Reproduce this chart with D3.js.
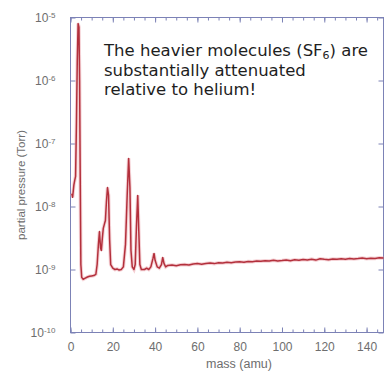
<!DOCTYPE html>
<html>
<head>
<meta charset="utf-8">
<script src="https://cdn.jsdelivr.net/npm/d3@7"></script>
<style>
  body { margin: 0; background: #fff; }
  svg { display: block; }
</style>
</head>
<body>
<div id="chart"></div>
<script>
// mass spectrum values
var mass = [0.6, 1.0, 1.6, 2.0, 2.4, 2.8, 3.2, 3.6, 4.0, 4.3, 4.6, 4.9, 5.3, 6, 7, 8, 9, 10, 11, 12,
    12.6, 13.2, 13.7, 14.2, 14.6, 15, 15.5, 16, 16.5, 17, 17.5, 18, 18.5, 19, 20, 21, 22, 23, 24, 25,
    26, 26.8, 27.5, 28.1, 28.6, 29.2, 30, 30.6, 31.2, 31.8, 32.3, 32.8, 33.5, 35, 36, 37, 38, 39, 39.5, 40,
    41, 42, 43, 43.6, 44.2, 45, 46, 48, 50, 52, 54, 56, 58, 60, 62, 64, 66, 68, 70, 72, 74, 76, 78, 80,
    82, 84, 86, 88, 90, 92, 94, 96, 98, 100, 102, 104, 106, 108, 110, 112, 114, 116, 118, 120,
    122, 124, 126, 128, 130, 132, 134, 136, 138, 140, 142, 144, 146, 148];
var pressure = [1.6e-8, 1.4e-8, 2.2e-8, 2.6e-8, 3.0e-8, 2e-7, 2e-6, 8e-6, 7e-6, 1e-6, 3e-8, 1.2e-9, 7.5e-10, 7.0e-10, 7.3e-10, 7.6e-10, 7.8e-10, 7.9e-10, 8.0e-10, 8.4e-10,
    1.2e-9, 2.5e-9, 4e-9, 2.2e-9, 2e-9, 3e-9, 4.5e-9, 5.2e-9, 6e-9, 1.2e-8, 2e-8, 1.5e-8, 3e-9, 1.2e-9, 1.05e-9, 1.0e-9, 1.02e-9, 9.8e-10, 1.0e-9, 1.1e-9,
    2.5e-9, 1.5e-8, 5.8e-8, 2e-8, 2e-9, 1.1e-9, 1.0e-9, 1.2e-9, 5e-9, 1.5e-8, 4e-9, 1.2e-9, 1.0e-9, 1.0e-9, 1.05e-9, 1.0e-9, 1.1e-9, 1.5e-9, 1.8e-9, 1.4e-9,
    1.1e-9, 1.05e-9, 1.2e-9, 1.55e-9, 1.25e-9, 1.1e-9, 1.16e-9, 1.18e-9, 1.15e-9, 1.19e-9, 1.2e-9, 1.18e-9, 1.22e-9, 1.24e-9, 1.21e-9, 1.25e-9, 1.27e-9, 1.24e-9, 1.28e-9, 1.27e-9, 1.3e-9, 1.28e-9, 1.31e-9, 1.33e-9,
    1.3e-9, 1.34e-9, 1.33e-9, 1.36e-9, 1.35e-9, 1.38e-9, 1.36e-9, 1.4e-9, 1.37e-9, 1.39e-9, 1.42e-9, 1.38e-9, 1.43e-9, 1.4e-9, 1.44e-9, 1.42e-9, 1.46e-9, 1.41e-9, 1.48e-9, 1.45e-9,
    1.43e-9, 1.47e-9, 1.45e-9, 1.48e-9, 1.46e-9, 1.5e-9, 1.47e-9, 1.49e-9, 1.52e-9, 1.48e-9, 1.51e-9, 1.5e-9, 1.53e-9, 1.52e-9];

var xTicks = [0, 20, 40, 60, 80, 100, 120, 140];
var xMinorTicks = d3.range(0, 150, 5);
var yTicks = [1e-10, 1e-9, 1e-8, 1e-7, 1e-6, 1e-5];
var yExponents = ['-10', '-9', '-8', '-7', '-6', '-5'];
var noteLines = ['The heavier molecules (SF', 'substantially attenuated', 'relative to helium!'];

// svg size and plot box
var width = 387;
var height = 375;
var box = { left: 70.5, right: 383.5, top: 17.5, bottom: 332.5 };

var axisColor = '#7c82b6';
var labelColor = '#6e6e6e';

var svg = d3.select('#chart')
    .append('svg')
    .attr('width', width)
    .attr('height', height);

var x = d3.scaleLinear().domain([0, 148]).range([box.left, box.right]);
var y = d3.scaleLog().domain([1e-10, 1e-5]).range([box.bottom, box.top]);

// frame
svg.append('rect')
    .attr('x', box.left)
    .attr('y', box.top)
    .attr('width', box.right - box.left)
    .attr('height', box.bottom - box.top)
    .style('fill', 'none')
    .style('stroke', axisColor)
    .style('stroke-width', 1);

function styleAxis(sel) {
    sel.select('.domain').remove();
    sel.selectAll('line').style('stroke', axisColor);
    sel.selectAll('text')
        .style('fill', labelColor)
        .style('font-family', 'Liberation Sans, Arial, sans-serif');
}

// bottom axis
svg.append('g')
    .attr('transform', 'translate(0,' + box.bottom + ')')
    .call(d3.axisBottom(x).tickValues(xMinorTicks).tickSize(-3).tickFormat(''))
    .call(styleAxis);
svg.append('g')
    .attr('transform', 'translate(0,' + box.bottom + ')')
    .call(d3.axisBottom(x).tickValues(xTicks).tickSize(-5).tickPadding(10).tickFormat(d3.format('d')))
    .call(styleAxis)
    .selectAll('text')
    .style('font-size', '12px');

// top axis
svg.append('g')
    .attr('transform', 'translate(0,' + box.top + ')')
    .call(d3.axisTop(x).tickValues(xMinorTicks).tickSize(-3).tickFormat(''))
    .call(styleAxis);
svg.append('g')
    .attr('transform', 'translate(0,' + box.top + ')')
    .call(d3.axisTop(x).tickValues(xTicks).tickSize(-5).tickFormat(''))
    .call(styleAxis);

// left axis with 10^n labels
var leftAxis = svg.append('g')
    .attr('transform', 'translate(' + box.left + ',0)')
    .call(d3.axisLeft(y).tickValues(yTicks).tickSize(-5).tickPadding(14).tickFormat(''))
    .call(styleAxis);

leftAxis.selectAll('.tick text')
    .style('font-size', '12px')
    .attr('x', -15)
    .each(function(d, i) {
        var t = d3.select(this);
        t.append('tspan').text('10');
        t.append('tspan')
            .attr('dy', '-0.45em')
            .style('font-size', '8px')
            .text(yExponents[i]);
    });

// right axis
svg.append('g')
    .attr('transform', 'translate(' + box.right + ',0)')
    .call(d3.axisRight(y).tickValues(yTicks).tickSize(-5).tickFormat(''))
    .call(styleAxis);

// axis titles
svg.append('text')
    .attr('x', (box.left + box.right) / 2 + 12)
    .attr('y', 368)
    .attr('text-anchor', 'middle')
    .style('font-family', 'Liberation Sans, Arial, sans-serif')
    .style('font-size', '12.5px')
    .style('fill', labelColor)
    .text('mass (amu)');

svg.append('text')
    .attr('transform', 'translate(25,185) rotate(-90)')
    .attr('text-anchor', 'middle')
    .style('font-family', 'Liberation Sans, Arial, sans-serif')
    .style('font-size', '11.5px')
    .style('fill', labelColor)
    .text('partial pressure (Torr)');

// spectrum line
var points = mass.map(function(m, i) {
    return { mass: m, pressure: pressure[i] };
});

var line = d3.line()
    .x(function(d) { return x(d.mass); })
    .y(function(d) { return y(d.pressure); });

svg.append('path')
    .datum(points)
    .attr('d', line)
    .style('fill', 'none')
    .style('stroke', '#eba4ab')
    .style('stroke-width', 3.5)
    .style('opacity', 0.5);

svg.append('path')
    .datum(points)
    .attr('d', line)
    .style('fill', 'none')
    .style('stroke', '#b3303c')
    .style('stroke-width', 1.5)
    .style('stroke-linejoin', 'round');

// annotation
var note = svg.append('g')
    .style('font-family', 'DejaVu Sans, sans-serif')
    .style('font-size', '16.5px')
    .style('fill', '#1e1e1e');

var first = note.append('text')
    .attr('x', 104)
    .attr('y', 56);
first.append('tspan').text(noteLines[0]);
first.append('tspan')
    .attr('dy', 3)
    .style('font-size', '11px')
    .text('6');
first.append('tspan')
    .attr('dy', -3)
    .text(') are');

note.selectAll('.note-line')
    .data(noteLines.slice(1))
    .enter()
    .append('text')
    .attr('class', 'note-line')
    .attr('x', 104)
    .attr('y', function(d, i) { return 75.5 + i * 19.5; })
    .text(function(d) { return d; });
</script>
</body>
</html>
